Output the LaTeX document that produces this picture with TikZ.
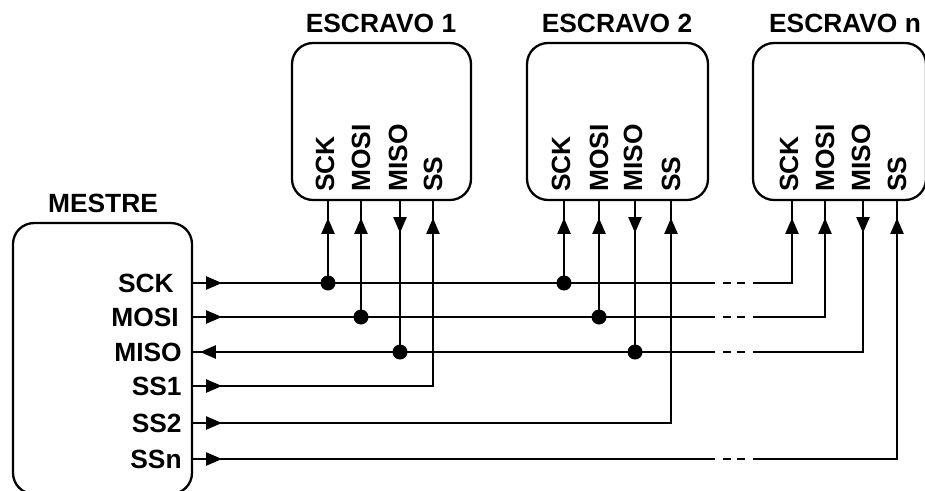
\documentclass[tikz,border=0pt]{standalone}
\usepackage{fontspec}
\setmainfont{Liberation Sans}
\usetikzlibrary{arrows.meta,positioning,decorations.markings}
\newcommand{\escpins}[5]{%
  \coordinate (#1sck) at (#2,200);
  \coordinate (#1mosi) at (#3,200);
  \coordinate (#1miso) at (#4,200);
  \coordinate (#1ss) at (#5,200);
  \node[pinlbl] (#1lsck) at (#2-3,192) {SCK};
  \node[pinlbl] (#1lmosi) at (#3,192) {MOSI};
  \node[pinlbl] (#1lmiso) at (#4-2,192) {MISO};
  \node[pinlbl] (#1lss) at (#5,192) {SS};}
\tikzset{
  box/.style={draw, line width=1.3pt, rounded corners=0.42cm, inner sep=0pt},
  wire/.style={line width=1.15pt},
  arrat/.style={postaction={decorate, decoration={markings,
      mark=at position #1 with {\arrow{Triangle[length=9pt,width=7.4pt]}}}}},
  gapdash/.style={wire, dash pattern=on 0.16cm off 0.12cm,
      shorten <=0.16cm, shorten >=0.16cm},
  junc/.style={circle, fill, inner sep=0pt, minimum size=0.3cm},
  lbl/.style={font=\fontsize{15}{18}\selectfont\bfseries, inner sep=0pt},
  pinlbl/.style={lbl, rotate=90, anchor=west},
}
\begin{document}
\begin{tikzpicture}[x=0.02cm,y=-0.02cm]
\useasboundingbox (0,0) rectangle (925,490);
% boxes and titles
\node[box, minimum width=3.58cm, minimum height=5.42cm] (mestre) at (102.5,358.5) {};
\node[box, minimum width=3.58cm, minimum height=3.14cm] (esc1) at (381.5,121.5) {};
\node[box, minimum width=3.62cm, minimum height=3.14cm] (esc2) at (617.5,121.5) {};
\node[box, minimum width=3.46cm, minimum height=3.14cm] (escn) at (839.5,121.5) {};
\node[lbl] (tmestre) at (103,203) {MESTRE};
\node[lbl] (tesc1) at (381,23) {ESCRAVO 1};
\node[lbl] (tesc2) at (617,23) {ESCRAVO 2};
\node[lbl] (tescn) at (845,23) {ESCRAVO n};
% master pins
\node[lbl, anchor=east] (lsck) at (174,283) {SCK};
\node[lbl, anchor=east] (lmosi) at (179,317) {MOSI};
\node[lbl, anchor=east] (lmiso) at (182,352) {MISO};
\node[lbl, anchor=east] (lss1) at (182,386) {SS1};
\node[lbl, anchor=east] (lss2) at (182,423) {SS2};
\node[lbl, anchor=east] (lssn) at (182,459) {SSn};
\coordinate (msck) at (192,283);
\coordinate (mmosi) at (192,317);
\coordinate (mmiso) at (192,352);
\coordinate (mss1) at (192,386);
\coordinate (mss2) at (192,423);
\coordinate (mssn) at (192,459);
% slave pins
\escpins{e1}{328}{361}{400}{433}
\escpins{e2}{564}{599}{635}{671}
\escpins{en}{792}{825}{863}{897}
\coordinate (gapL) at (715,0);
\coordinate (gapR) at (753,0);
% SCK
\draw[wire, arrat=0.6cm] (msck) -- (msck -| gapL);
\draw[gapdash] (msck -| gapL) -- (msck -| gapR);
\draw[wire, arrat=-0.36cm] (msck -| gapR) -| (ensck);
\node[junc] (j1sck) at (msck -| e1sck) {};
\node[junc] (j2sck) at (msck -| e2sck) {};
\draw[wire, arrat=-0.36cm] (j1sck.center) -- (e1sck);
\draw[wire, arrat=-0.36cm] (j2sck.center) -- (e2sck);
% MOSI
\draw[wire, arrat=0.6cm] (mmosi) -- (mmosi -| gapL);
\draw[gapdash] (mmosi -| gapL) -- (mmosi -| gapR);
\draw[wire, arrat=-0.36cm] (mmosi -| gapR) -| (enmosi);
\node[junc] (j1mosi) at (mmosi -| e1mosi) {};
\node[junc] (j2mosi) at (mmosi -| e2mosi) {};
\draw[wire, arrat=-0.36cm] (j1mosi.center) -- (e1mosi);
\draw[wire, arrat=-0.36cm] (j2mosi.center) -- (e2mosi);
% MISO
\draw[wire, arrat=0.66cm] (enmiso) |- (mmiso -| gapR);
\draw[gapdash] (mmiso -| gapR) -- (mmiso -| gapL);
\draw[wire, arrat=-0.16cm] (mmiso -| gapL) -- (mmiso);
\node[junc] (j1miso) at (mmiso -| e1miso) {};
\node[junc] (j2miso) at (mmiso -| e2miso) {};
\draw[wire, arrat=0.66cm] (e1miso) -- (j1miso.center);
\draw[wire, arrat=0.66cm] (e2miso) -- (j2miso.center);
% slave selects
\draw[wire, arrat=0.6cm, arrat=-0.36cm] (mss1) -| (e1ss);
\draw[wire, arrat=0.6cm, arrat=-0.36cm] (mss2) -| (e2ss);
\draw[wire, arrat=0.6cm] (mssn) -- (mssn -| gapL);
\draw[gapdash] (mssn -| gapL) -- (mssn -| gapR);
\draw[wire, arrat=-0.36cm] (mssn -| gapR) -| (enss);
\end{tikzpicture}
\end{document}
